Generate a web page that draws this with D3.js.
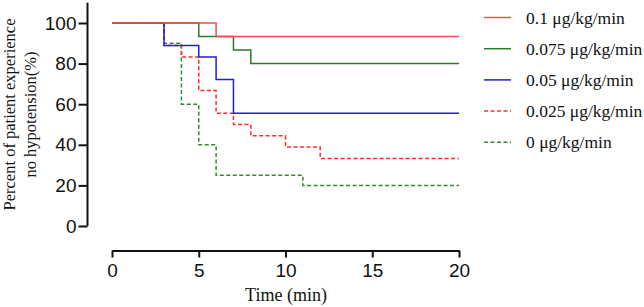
<!DOCTYPE html>
<html>
<head>
<meta charset="utf-8">
<script src="https://cdn.jsdelivr.net/npm/d3@7"></script>
<style>
  html, body { margin: 0; padding: 0; background: #fff; }
  svg { display: block; }
</style>
</head>
<body>
<div id="chart"></div>
<script>
// Kaplan-Meier style step data: [time (min), percent]
const dose01 = [[0, 100], [6, 93.3], [20, 93.3]];
const dose0075 = [[0, 100], [5, 93.3], [7, 86.7], [8, 80], [20, 80]];
const dose005 = [[0, 100], [3, 88.9], [5, 83.3], [6, 72.2], [7, 55.6], [20, 55.6]];
const dose0025 = [[0, 100], [3, 88.9], [4, 83.3], [5, 66.7], [6, 55.6], [7, 50], [8, 44.4], [10, 38.9], [12, 33.3], [20, 33.3]];
const dose0 = [[0, 100], [3, 90], [4, 60], [5, 40], [6, 25], [11, 20], [20, 20]];

const seriesNames = ['0.1 μg/kg/min', '0.075 μg/kg/min', '0.05 μg/kg/min', '0.025 μg/kg/min', '0 μg/kg/min'];
const xTicks = [0, 5, 10, 15, 20];
const yTicks = [0, 20, 40, 60, 80, 100];

const series = [
  { name: seriesNames[0], values: dose01, color: '#f44d4d', dash: null },
  { name: seriesNames[1], values: dose0075, color: '#2a7a2a', dash: null },
  { name: seriesNames[2], values: dose005, color: '#2020d0', dash: null },
  { name: seriesNames[3], values: dose0025, color: '#ff2b2b', dash: '4 2.5' },
  { name: seriesNames[4], values: dose0, color: '#2e8b2e', dash: '4 2.5' },
];

const width = 644, height = 307;
const svg = d3.select('#chart').append('svg')
  .attr('width', width).attr('height', height);

const x = d3.scaleLinear().domain([0, 20]).range([112, 459]);
const y = d3.scaleLinear().domain([0, 110]).range([226, 2.7]);

const sans = '"Liberation Sans", Arial, sans-serif';
const serif = '"Liberation Serif", "Times New Roman", serif';

// Y axis
const yAxisG = svg.append('g').attr('transform', 'translate(87.5,0)')
  .call(d3.axisLeft(y).tickValues(yTicks).tickSize(9).tickPadding(2).tickSizeOuter(0));
yAxisG.select('.domain').attr('d', `M0,${y(110)}V${y(0)}`);
// X axis
const xAxisG = svg.append('g').attr('transform', 'translate(0,250.5)')
  .call(d3.axisBottom(x).tickValues(xTicks).tickSize(7).tickPadding(6).tickSizeOuter(0));

[yAxisG, xAxisG].forEach(g => {
  g.select('.domain').attr('stroke', '#111').attr('stroke-width', 2);
  g.selectAll('.tick line').attr('stroke', '#111').attr('stroke-width', 2);
  g.selectAll('.tick text').attr('fill', '#111')
    .style('font-family', sans).style('font-size', '19px');
});

// Axis titles
svg.append('text')
  .attr('x', 286).attr('y', 301)
  .attr('text-anchor', 'middle')
  .style('font-family', serif).style('font-size', '18px').attr('fill', '#111')
  .text('Time (min)');

const yTitle = svg.append('text')
  .attr('transform', 'translate(15,114.5) rotate(-90)')
  .attr('text-anchor', 'middle')
  .style('font-family', serif).style('font-size', '16.5px').attr('fill', '#111');
yTitle.append('tspan').attr('x', 0).attr('dy', 0).text('Percent of patient experience');
yTitle.append('tspan').attr('x', 0).attr('dy', 21).text('no hypotension(%)');

// Step lines
const line = d3.line()
  .x(d => x(d[0]))
  .y(d => y(d[1]))
  .curve(d3.curveStepAfter);

svg.append('g').selectAll('path').data(series.slice().reverse()).join('path')
  .attr('d', d => line(d.values))
  .attr('fill', 'none')
  .attr('stroke', d => d.color)
  .attr('stroke-width', 1.5)
  .attr('stroke-dasharray', d => d.dash);

// Legend
const legend = svg.append('g').attr('transform', 'translate(484,17.5)');
const item = legend.selectAll('g').data(series).join('g')
  .attr('transform', (d, i) => `translate(0,${i * 31.2})`);
item.append('line')
  .attr('x1', 0).attr('x2', 27)
  .attr('stroke', d => d.color)
  .attr('stroke-width', 1.5)
  .attr('stroke-dasharray', d => d.dash);
item.append('text')
  .attr('x', 42).attr('y', 6)
  .style('font-family', serif).style('font-size', '17.5px').attr('fill', '#111')
  .text(d => d.name);
</script>
</body>
</html>
